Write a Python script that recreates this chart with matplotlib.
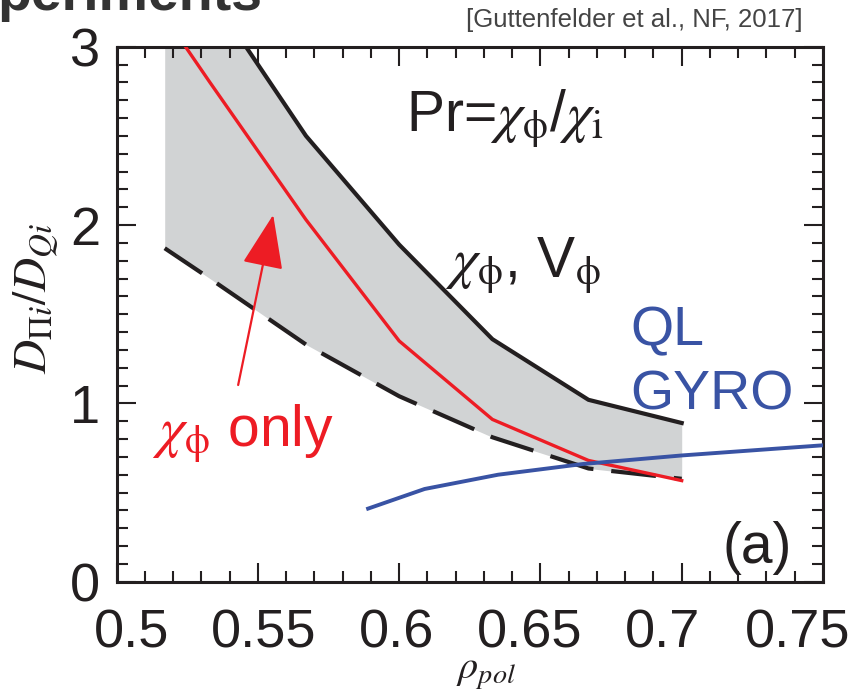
"""Prandtl-number profiles vs rho_pol: chi_phi/V_phi band, chi_phi only, QL GYRO."""

import matplotlib

matplotlib.use("Agg")
import matplotlib.pyplot as plt
from matplotlib.ticker import FixedLocator, MultipleLocator
from matplotlib.transforms import ScaledTranslation


# values
RHO_BAND = [0.517, 0.533, 0.567, 0.600, 0.633, 0.667, 0.700]
PR_CHI_V_UPPER = [3.75, 3.30, 2.50, 1.89, 1.36, 1.02, 0.89]
PR_CHI_V_LOWER = [1.87, 1.70, 1.33, 1.04, 0.81, 0.635, 0.577]
PR_CHI_ONLY = [3.17, 2.80, 2.03, 1.35, 0.91, 0.68, 0.567]

RHO_GYRO = [0.589, 0.609, 0.635, 0.665, 0.700, 0.750]
PR_QL_GYRO = [0.41, 0.52, 0.60, 0.66, 0.708, 0.765]

X_TICKS = [0.5, 0.55, 0.6, 0.65, 0.7, 0.75]
X_TICK_LABELS = ["0.5", "0.55", "0.6", "0.65", "0.7", "0.75"]
Y_TICKS = [0, 1, 2, 3]
Y_TICK_LABELS = ["0", "1", "2", "3"]

ARROW_TAIL = (0.543, 1.103)
ARROW_TIP = (0.5554, 2.057)

# the original x tick labels sit a little off their ticks (pixels)
X_LABEL_SHIFT_PX = [14.8, 6.0, -2.4, -10.5, -19.1, -25.0]

BLACK = "#231f20"
RED = "#ed1c24"
BLUE = "#3953a4"
BAND_GRAY = "#d1d3d4"

plt.rcParams["font.family"] = ["Liberation Sans", "DejaVu Sans"]


def main():
    fig = plt.figure(figsize=(8.56, 6.96), dpi=100)
    ax = fig.add_axes([0.1363, 0.1642, 0.8251, 0.7687])

    ax.fill_between(RHO_BAND, PR_CHI_V_LOWER, PR_CHI_V_UPPER,
                    color=BAND_GRAY, lw=0, zorder=1)
    ax.plot(RHO_BAND, PR_CHI_V_UPPER, color=BLACK, lw=3.0, zorder=3)
    ax.plot(RHO_BAND, PR_CHI_V_LOWER, color=BLACK, lw=3.0,
            dashes=(10.8, 4.3), dash_capstyle="butt", zorder=3)
    ax.plot(RHO_BAND, PR_CHI_ONLY, color=RED, lw=2.4, zorder=4)
    ax.plot(RHO_GYRO, PR_QL_GYRO, color=BLUE, lw=2.8, zorder=5)

    ax.annotate("", xy=ARROW_TIP, xytext=ARROW_TAIL,
                arrowprops=dict(arrowstyle="-|>,head_length=1.7,head_width=0.65",
                                color=RED, lw=1.6, mutation_scale=20,
                                shrinkA=0, shrinkB=0), zorder=4)

    ax.set_xlim(0.5, 0.75)
    ax.set_ylim(0, 3)
    ax.xaxis.set_major_locator(FixedLocator(X_TICKS))
    ax.xaxis.set_minor_locator(MultipleLocator(0.01))
    ax.yaxis.set_major_locator(FixedLocator(Y_TICKS))
    ax.yaxis.set_minor_locator(MultipleLocator(0.1))
    ax.set_xticklabels(X_TICK_LABELS)
    ax.set_yticklabels(Y_TICK_LABELS)
    ax.tick_params(which="both", direction="in", top=True, right=True,
                   width=1.5, color=BLACK, labelcolor=BLACK, labelsize=39)
    ax.tick_params(which="major", length=14)
    ax.tick_params(which="minor", length=8)
    ax.tick_params(axis="x", pad=19)
    ax.tick_params(axis="y", pad=12)
    for spine in ax.spines.values():
        spine.set_linewidth(2.2)
        spine.set_color(BLACK)
    for label, shift in zip(ax.get_xticklabels(), X_LABEL_SHIFT_PX):
        label.set_transform(label.get_transform()
                            + ScaledTranslation(shift / 100, 0, fig.dpi_scale_trans))

    ax.set_xlabel(r"$\rho_{pol}$", fontsize=29, color=BLACK, math_fontfamily="stix")
    ax.set_ylabel(r"$D_{\Pi i}/D_{Qi}$", fontsize=34, color=BLACK, math_fontfamily="stix")
    ax.xaxis.set_label_coords(0.523, -0.136)
    ax.yaxis.set_label_coords(-0.079, 0.530)

    greek = dict(fontsize=41, va="baseline", math_fontfamily="stix")
    ax.text(0.6024, 2.517, r"Pr=$\chi_{\mathrm{\phi}}$/$\chi_{\mathrm{i}}$",
            color=BLACK, **greek)
    ax.text(0.6162, 1.703, r"$\chi_{\mathrm{\phi}}$, V$_{\mathrm{\phi}}$",
            color=BLACK, **greek)
    ax.text(0.5125, 0.750, r"$\chi_{\mathrm{\phi}}$ only", color=RED, **greek)
    ax.text(0.6817, 1.327, "QL", fontsize=40, color=BLUE, va="baseline")
    ax.text(0.6817, 0.963, "GYRO", fontsize=40, color=BLUE, va="baseline")
    ax.text(0.7143, 0.105, "(a)", fontsize=41, color=BLACK, va="baseline")

    fig.text(0.938, 1 - 20 / 696, "[Guttenfelder et al., NF, 2017]",
             ha="right", va="center", fontsize=18.5, color="#444444")
    fig.text(-0.003, 1 - 10 / 696, "periments", ha="left", va="baseline",
             fontsize=40, fontweight="bold", color="#333333")

    fig.savefig("out.png", dpi=100)
    plt.close(fig)


if __name__ == "__main__":
    main()
